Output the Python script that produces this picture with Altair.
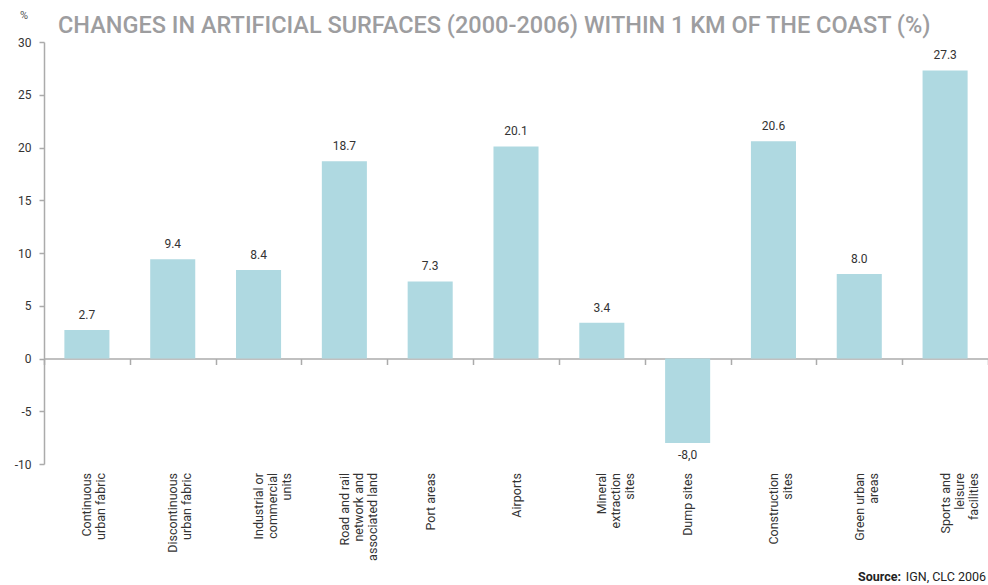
import altair as alt
import pandas as pd

# Land-cover classes (line breaks marked with "|"), change in %, and printed value labels
categories = [
    "Continuous|urban fabric",
    "Discontinuous|urban fabric",
    "Industrial or|commercial|units",
    "Road and rail|network and|associated land",
    "Port areas",
    "Airports",
    "Mineral|extraction|sites",
    "Dump sites",
    "Construction|sites",
    "Green urban|areas",
    "Sports and|leisure|facilities",
]
values = [2.7, 9.4, 8.4, 18.7, 7.3, 20.1, 3.4, -8.0, 20.6, 8.0, 27.3]
value_labels = ["2.7", "9.4", "8.4", "18.7", "7.3", "20.1", "3.4", "-8,0", "20.6", "8.0", "27.3"]
y_ticks = [-10, -5, 0, 5, 10, 15, 20, 25, 30]

title_text = "CHANGES IN ARTIFICIAL SURFACES (2000-2006) WITHIN 1 KM OF THE COAST (%)"
unit_text = "%"
source_bold = "Source:"
source_rest = "IGN, CLC 2006"

W, H = 944, 422
BAR_COLOR = "#afd9e1"
AXIS_GREY = "#ababab"
TEXT_DARK = "#333333"
FONT = "Roboto"
TITLE_FONT = "Roboto"

df = pd.DataFrame({"cat": categories, "val": values, "lab": value_labels})

# Bands without padding so the axis ticks fall between the bars;
# the bars themselves take a fraction of each band.
x_enc = alt.X(
    "cat:N",
    sort=categories,
    scale=alt.Scale(paddingInner=0, paddingOuter=0),
    axis=alt.Axis(
        title=None,
        offset=-H / 4,
        domainColor=AXIS_GREY,
        domainWidth=1.5,
        tickColor=AXIS_GREY,
        tickWidth=1.5,
        tickSize=6,
        tickBand="extent",
        labelAngle=270,
        labelAlign="right",
        labelBaseline="middle",
        labelPadding=108,
        labelFont=FONT,
        labelFontSize=12.5,
        labelColor=TEXT_DARK,
        labelLineHeight=14,
        labelLimit=0,
        labelOverlap=False,
        labelExpr="split(datum.label, '|')",
    ),
)

y_enc = alt.Y(
    "val:Q",
    scale=alt.Scale(domain=[-10, 30], nice=False, zero=False),
    axis=alt.Axis(
        title=None,
        values=y_ticks,
        grid=False,
        domainColor=AXIS_GREY,
        domainWidth=1.5,
        tickColor=AXIS_GREY,
        tickWidth=1.5,
        tickSize=5,
        labelPadding=8,
        labelFont=FONT,
        labelFontSize=12,
        labelColor=TEXT_DARK,
        labelExpr="datum.value < 0 ? '-' + abs(datum.value) : '' + datum.value",
    ),
)

base = alt.Chart(df)

bars = base.mark_bar(color=BAR_COLOR, width=alt.RelativeBandSize(0.525)).encode(
    x=x_enc, y=y_enc, y2=alt.datum(0)
)

pos_labels = (
    base.transform_filter("datum.val >= 0")
    .mark_text(baseline="bottom", dy=-8, font=FONT, fontSize=12, color=TEXT_DARK)
    .encode(x=alt.X("cat:N", sort=categories), y="val:Q", text="lab:N")
)
neg_labels = (
    base.transform_filter("datum.val < 0")
    .mark_text(baseline="top", dy=7, font=FONT, fontSize=12, color=TEXT_DARK)
    .encode(x=alt.X("cat:N", sort=categories), y="val:Q", text="lab:N")
)

one = pd.DataFrame({"k": [0]})

title = alt.Chart(one).mark_text(
    text=title_text, align="left", baseline="alphabetic",
    font=TITLE_FONT, fontSize=23.5, fontWeight=500, color="#9d9d9f",
).encode(x=alt.value(14), y=alt.value(-9))

unit = alt.Chart(one).mark_text(
    text=unit_text, align="left", baseline="middle",
    font=FONT, fontSize=11, color="#555555",
).encode(x=alt.value(-24), y=alt.value(-26))

src_rest = alt.Chart(one).mark_text(
    text=source_rest, align="right", baseline="alphabetic",
    font=FONT, fontSize=12.5, color="#222222",
).encode(x=alt.value(W - 2), y=alt.value(H + 117))

src_bold = alt.Chart(one).mark_text(
    text=source_bold, align="right", baseline="alphabetic",
    font=FONT, fontSize=12.5, fontWeight="bold", color="#222222",
).encode(x=alt.value(W - 87), y=alt.value(H + 117))

chart = (
    alt.layer(bars, pos_labels, neg_labels, title, unit, src_rest, src_bold)
    .properties(
        width=W,
        height=H,
        autosize=alt.AutoSizeParams(type="none"),
        padding={"left": 44, "top": 42, "right": 0, "bottom": 121},
        background="white",
    )
    .configure_view(stroke=None)
)

chart.save("out.html", embed_options={"renderer": "svg", "actions": False})
